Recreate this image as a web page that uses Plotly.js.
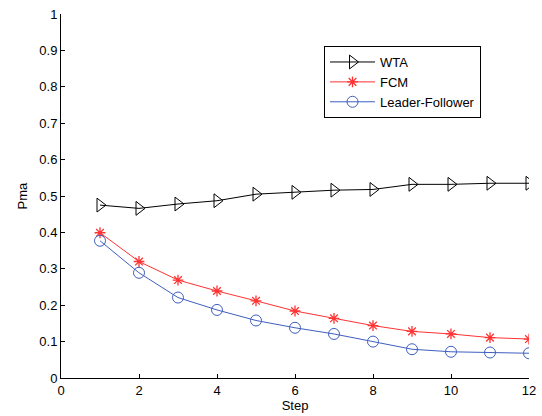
<!DOCTYPE html>
<html><head><meta charset="utf-8">
<script src="https://cdn.plot.ly/plotly-3.0.1.min.js"></script>
<style>body{margin:0;background:#fff}#c{width:542px;height:416px}</style>
</head><body><div id="c"></div>
<script>
var steps = [1,2,3,4,5,6,7,8,9,10,11,12];
var wta = [0.475,0.466,0.478,0.487,0.505,0.510,0.516,0.518,0.532,0.532,0.535,0.535];
var fcm = [0.399,0.320,0.269,0.239,0.212,0.184,0.164,0.144,0.128,0.121,0.111,0.107];
var lf  = [0.377,0.289,0.221,0.187,0.158,0.138,0.121,0.100,0.079,0.072,0.070,0.068];
var names = ['WTA','FCM','Leader-Follower'];
var xticks = [0,2,4,6,8,10,12];
var yticks = [0,0.1,0.2,0.3,0.4,0.5,0.6,0.7,0.8,0.9,1];
var yticklabels = ['0','0.1','0.2','0.3','0.4','0.5','0.6','0.7','0.8','0.9','1'];

var traces = [
 {x:steps,y:wta,name:names[0],mode:'lines+markers',line:{color:'#000',width:1},
  marker:{symbol:'triangle-right-open',size:12,color:'#000',line:{width:1}}},
 {x:steps,y:fcm,name:names[1],mode:'lines+markers',line:{color:'#ff3333',width:1},
  marker:{symbol:'asterisk-open',size:9,color:'#ff3333',line:{width:1.3,color:'#ff3333'}}},
 {x:steps,y:lf,name:names[2],mode:'lines+markers',line:{color:'#3f5fbf',width:1},
  marker:{symbol:'circle-open',size:11,color:'#3f5fbf',line:{width:1}}}
];
var layout = {
 width:542,height:416,margin:{l:61,r:13,t:14,b:38},
 paper_bgcolor:'#fff',plot_bgcolor:'#fff',
 font:{family:'Liberation Sans, Arial, sans-serif',size:13,color:'#000'},
 showlegend:true,
 legend:{x:0.562,y:0.912,xanchor:'left',yanchor:'top',bgcolor:'#fff',bordercolor:'#000',borderwidth:1,
   font:{size:13},tracegroupgap:0,itemwidth:45},
 xaxis:{range:[0,12],tickvals:xticks,ticktext:xticks.map(String),ticks:'inside',ticklen:4,
   showline:true,linecolor:'#000',linewidth:1,showgrid:false,zeroline:false,tickcolor:'#000',
   title:{text:'Step',standoff:3,font:{size:13}}},
 yaxis:{range:[0,1],tickvals:yticks,ticktext:yticklabels,ticks:'inside',ticklen:4,
   showline:true,linecolor:'#000',linewidth:1,showgrid:false,zeroline:false,tickcolor:'#000',
   title:{text:'Pma',standoff:8,font:{size:13}}}
};
Plotly.newPlot('c',traces,layout,{displayModeBar:false});
</script></body></html>
